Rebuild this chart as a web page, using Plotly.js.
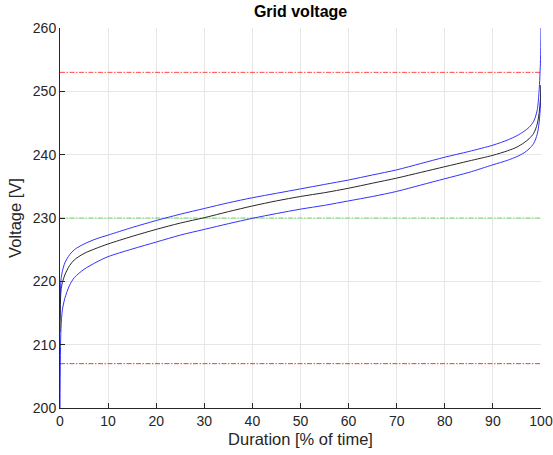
<!DOCTYPE html>
<html>
<head>
<meta charset="utf-8">
<script src="https://cdn.plot.ly/plotly-3.0.1.min.js"></script>
<style>html,body{margin:0;padding:0;background:#fff;}#chart{width:553px;height:455px;}</style>
</head>
<body>
<div id="chart"></div>
<script>
// Duration [% of time]
const duration = [0, 0.2, 0.5, 1, 2, 3, 5, 7.5, 10, 15, 20, 25, 30, 35, 40, 45, 50, 55, 60, 65, 70, 75, 80, 85, 90, 93, 95, 96.5, 97.5, 98.5, 99.2, 99.6, 99.9, 100];
// Voltage duration curves [V]
const upperV = [214, 220.2, 221.6, 222.9, 224.2, 225, 225.9, 226.7, 227.3, 228.5, 229.6, 230.6, 231.5, 232.4, 233.2, 233.9, 234.6, 235.3, 236, 236.8, 237.6, 238.6, 239.6, 240.5, 241.5, 242.3, 243, 243.7, 244.3, 245.3, 247, 250, 255, 260];
const medianV = [212, 218.5, 219.8, 221, 222.5, 223.4, 224.4, 225.2, 225.9, 227.1, 228.2, 229.2, 230.05, 231, 231.9, 232.7, 233.4, 234, 234.7, 235.5, 236.3, 237.2, 238.1, 239, 239.9, 240.6, 241.2, 241.9, 242.5, 243.4, 244.8, 246.5, 249, 251];
const lowerV = [200, 212.5, 215.5, 217.3, 219.4, 220.6, 221.9, 223, 223.9, 225.1, 226.2, 227.3, 228.2, 229.1, 229.95, 230.7, 231.4, 232, 232.7, 233.4, 234.2, 235.2, 236.2, 237.2, 238.4, 239.1, 239.7, 240.3, 240.9, 241.8, 243.2, 245, 248, 251];
// Limits
const limitX = [0, 100];
const upperLimit = 253;
const nominal = 230;
const lowerLimit = 207;

const dashDot = "5px,1.5px,1.5px,1.5px";
const curveLine = (c) => ({color: c, width: 1, shape: 'spline', smoothing: 0.8});
const traces = [
  {x: limitX, y: [upperLimit, upperLimit], mode: 'lines', line: {color: 'rgb(255,70,70)', width: 1, dash: dashDot}, hoverinfo: 'skip'},
  {x: limitX, y: [nominal, nominal], mode: 'lines', line: {color: 'rgb(100,225,100)', width: 1, dash: dashDot}, hoverinfo: 'skip'},
  {x: limitX, y: [lowerLimit, lowerLimit], mode: 'lines', line: {color: 'rgb(235,60,60)', width: 1, dash: dashDot}, hoverinfo: 'skip'},
  {x: duration, y: upperV, mode: 'lines', line: curveLine('rgb(50,50,255)')},
  {x: duration, y: lowerV, mode: 'lines', line: curveLine('rgb(50,50,255)')},
  {x: duration, y: medianV, mode: 'lines', line: curveLine('rgb(40,40,40)')}
];

const FF = 'Liberation Sans, Arial, sans-serif';
const axisFont = {family: FF, size: 14, color: '#262626'};
const layout = {
  width: 553, height: 455,
  margin: {l: 60, r: 12, t: 28, b: 47},
  paper_bgcolor: '#fff', plot_bgcolor: '#fff',
  showlegend: false,
  title: {text: '<b>Grid voltage</b>', x: 0.5435, xanchor: 'center', y: 0.975, yanchor: 'middle',
    font: {family: FF, size: 16, color: '#000'}},
  xaxis: {
    range: [0, 100], tickvals: [0,10,20,30,40,50,60,70,80,90,100],
    showgrid: true, gridcolor: '#e6e6e6', gridwidth: 1, zeroline: false,
    showline: true, linecolor: '#262626', linewidth: 1,
    ticks: 'inside', ticklen: 5, tickcolor: '#262626',
    tickfont: axisFont,
    title: {text: 'Duration [% of time]', font: {family: FF, size: 16.5, color: '#262626'}, standoff: 5}
  },
  yaxis: {
    range: [200, 260], tickvals: [200,210,220,230,240,250,260],
    showgrid: true, gridcolor: '#e6e6e6', gridwidth: 1, zeroline: false,
    showline: true, linecolor: '#262626', linewidth: 1,
    ticks: 'inside', ticklen: 5, tickcolor: '#262626',
    tickfont: axisFont,
    title: {text: 'Voltage [V]', font: {family: FF, size: 16.5, color: '#262626'}, standoff: 7}
  }
};
Plotly.newPlot('chart', traces, layout, {displayModeBar: false, staticPlot: true});
</script>
</body>
</html>
